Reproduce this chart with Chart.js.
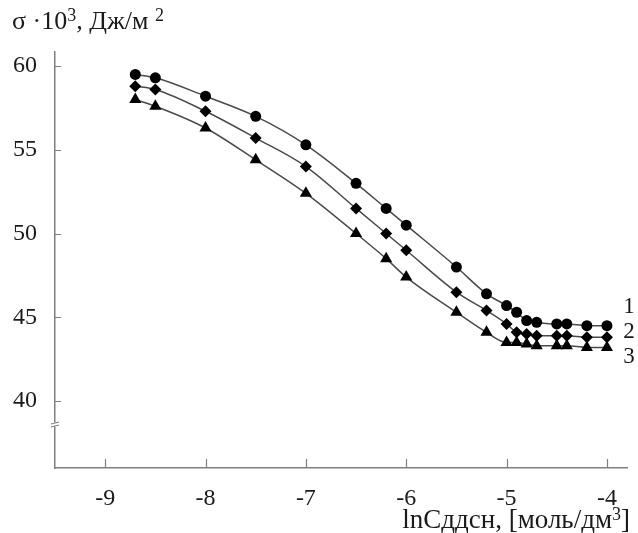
<!DOCTYPE html>
<html>
<head>
<meta charset="utf-8">
<script src="https://cdn.jsdelivr.net/npm/chart.js@4"></script>
<style>
  body { margin: 0; background: #fff; }
  canvas { display: block; }
</style>
</head>
<body>
<canvas id="surfaceTension" width="638" height="533"></canvas>
<script>
// surface tension isotherms, three curves
const lnC = [-8.7, -8.5, -8, -7.5, -7, -6.5, -6.2, -6, -5.5, -5.2, -5, -4.9, -4.8, -4.7, -4.5, -4.4, -4.2, -4];
const curve1 = [59.5, 59.3, 58.2, 57.0, 55.3, 53.0, 51.5, 50.5, 48.0, 46.4, 45.7, 45.3, 44.8, 44.7, 44.6, 44.6, 44.5, 44.5];
const curve2 = [58.8, 58.6, 57.3, 55.7, 54.0, 51.5, 50.0, 49.0, 46.5, 45.4, 44.6, 44.1, 44.0, 43.9, 43.9, 43.9, 43.8, 43.8];
const curve3 = [58.0, 57.6, 56.3, 54.4, 52.4, 50.0, 48.5, 47.4, 45.3, 44.1, 43.5, 43.5, 43.4, 43.3, 43.3, 43.3, 43.2, 43.2];
const curveNames = ['1', '2', '3'];
const xTicks = [-9, -8, -7, -6, -5, -4];
const yTicks = [40, 45, 50, 55, 60];

const serif = 'Liberation Serif';
const textColor = '#1a1a1a';
const axisColor = '#808080';

function points(ys) {
  return lnC.map((x, i) => ({ x: x, y: ys[i] }));
}

function curve(ys, style, radius) {
  return {
    data: points(ys),
    borderColor: '#4a4a4a',
    borderWidth: 1.5,
    cubicInterpolationMode: 'monotone',
    pointStyle: style,
    pointRadius: radius,
    pointBackgroundColor: '#000',
    pointBorderColor: '#000',
    pointBorderWidth: 0,
    clip: false
  };
}

// text made of [string, isSuperscript] pieces, drawn left to right
function drawRich(ctx, parts, x, baseline, size) {
  let cx = x;
  parts.forEach(([txt, sup]) => {
    const s = sup ? Math.round(size * 0.68) : size;
    ctx.font = s + 'px "' + serif + '"';
    ctx.fillText(txt, cx, sup ? baseline - size * 0.3 : baseline);
    cx += ctx.measureText(txt).width;
  });
  return cx - x;
}

function richWidth(ctx, parts, size) {
  let w = 0;
  parts.forEach(([txt, sup]) => {
    const s = sup ? Math.round(size * 0.68) : size;
    ctx.font = s + 'px "' + serif + '"';
    w += ctx.measureText(txt).width;
  });
  return w;
}

// ticks drawn inward, axis break, curve numbers and axis titles
const decorations = {
  id: 'decorations',
  afterDraw(chart) {
    const ctx = chart.ctx;
    const x = chart.scales.x, y = chart.scales.y;
    const area = chart.chartArea;
    ctx.save();
    ctx.strokeStyle = axisColor;
    ctx.lineWidth = 1.2;
    ctx.beginPath();
    xTicks.forEach(v => {
      const px = Math.round(x.getPixelForValue(v)) + 0.5;
      ctx.moveTo(px, area.bottom);
      ctx.lineTo(px, area.bottom - 9);
    });
    yTicks.forEach(v => {
      const py = Math.round(y.getPixelForValue(v)) + 0.5;
      ctx.moveTo(area.left, py);
      ctx.lineTo(area.left + 6, py);
    });
    ctx.stroke();

    // break marks on the value axis
    const by = y.getPixelForValue(38.6);
    ctx.fillStyle = '#fff';
    ctx.fillRect(area.left - 3, by - 2, 6, 4);
    ctx.beginPath();
    ctx.moveTo(area.left - 4, by - 0.5);
    ctx.lineTo(area.left + 4, by - 2.5);
    ctx.moveTo(area.left - 4, by + 2.5);
    ctx.lineTo(area.left + 4, by + 0.5);
    ctx.stroke();

    ctx.fillStyle = textColor;
    ctx.font = '23px "' + serif + '"';
    ctx.textAlign = 'center';
    ctx.textBaseline = 'middle';
    const labelY = [307, 332, 357];
    curveNames.forEach((name, i) => {
      ctx.fillText(name, 629, labelY[i]);
    });

    ctx.textAlign = 'left';
    ctx.textBaseline = 'alphabetic';
    const yTitle = [['σ ·10', false], ['3', true], [', Дж/м ', false], ['2', true]];
    drawRich(ctx, yTitle, 12, 29, 26);

    const xTitle = [['lnСддсн, [моль/дм', false], ['3', true], [']', false]];
    const w = richWidth(ctx, xTitle, 27);
    drawRich(ctx, xTitle, 630 - w, 528, 27);
    ctx.restore();
  }
};

new Chart(document.getElementById('surfaceTension'), {
  type: 'line',
  data: {
    datasets: [
      curve(curve1, 'circle', 5.5),
      curve(curve2, 'rectRot', 6),
      curve(curve3, 'triangle', 7)
    ]
  },
  options: {
    responsive: false,
    devicePixelRatio: 1,
    animation: false,
    layout: { padding: { top: 52, right: 11, left: 0, bottom: 0 } },
    plugins: {
      legend: { display: false },
      tooltip: { enabled: false }
    },
    scales: {
      x: {
        type: 'linear',
        min: -9.5,
        max: -3.8,
        afterBuildTicks: s => { s.ticks = xTicks.map(v => ({ value: v })); },
        afterFit: s => { s.height = 65; },
        grid: { display: false, drawTicks: false },
        border: { display: true, color: axisColor, width: 1.5 },
        ticks: {
          color: textColor,
          font: { family: serif, size: 24 },
          padding: 16,
          maxRotation: 0
        }
      },
      y: {
        type: 'linear',
        min: 36,
        max: 60.84,
        afterBuildTicks: s => { s.ticks = yTicks.map(v => ({ value: v })); },
        afterFit: s => { s.width = 55; },
        grid: { display: false, drawTicks: false },
        border: { display: true, color: axisColor, width: 1.5 },
        ticks: {
          color: textColor,
          font: { family: serif, size: 24 },
          padding: 18
        }
      }
    }
  },
  plugins: [decorations]
});
</script>
</body>
</html>
